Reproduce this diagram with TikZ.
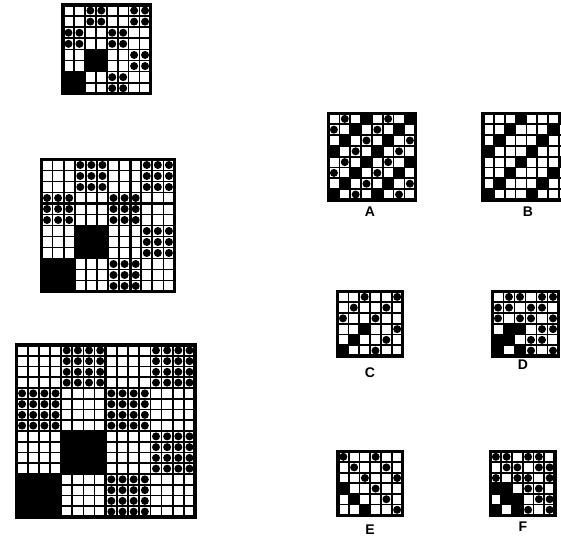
\documentclass[tikz,border=0pt]{standalone}
\usepackage{fontspec}
\setsansfont{Liberation Sans}
\tikzset{
  gridline/.style={line width=1.7pt},
  gridborder/.style={line width=3.2pt},
  midline/.style={line width=2.8pt},
  lbl/.style={font=\sffamily\bfseries\fontsize{14}{14}\selectfont, inner sep=0pt},
}
% #1 x0, #2 y0, #3 ncols, #4 nrows, #5 cell width, #6 cell height, #7 cell type (0 white, 1 dot, 2 black)
\newcommand\mygrid[7]{%
  \pgfmathtruncatemacro\gnc{#3-1}%
  \pgfmathtruncatemacro\gnr{#4-1}%
  \foreach \gr in {0,...,\gnr}{%
    \foreach \gc in {0,...,\gnc}{%
      \pgfmathtruncatemacro\gt{#7}%
      \ifnum\gt=2 \fill ({#1+\gc*#5},{#2+\gr*#6}) rectangle ++(#5,#6);\fi
      \ifnum\gt=1 \fill ({#1+(\gc+0.5)*#5},{#2+(\gr+0.5)*#6}) circle[radius=4];\fi
    }%
  }%
  \foreach \gi in {1,...,\gnc}{\draw[gridline] ({#1+\gi*#5},#2) -- ++(0,{#4*#6});}%
  \foreach \gi in {1,...,\gnr}{\draw[gridline] (#1,{#2+\gi*#6}) -- ++({#3*#5},0);}%
  \draw[gridborder] (#1,#2) rectangle ++({#3*#5},{#4*#6});%
}
\begin{document}
\begin{tikzpicture}[x=1pt,y=-1pt]
\fill[white] (0,0) rectangle (561,537);
\path[use as bounding box] (0,0) rectangle (561,537);
\begin{scope}
\clip (0,0) rectangle (561,537);
% scale series
\mygrid{63}{5}{8}{8}{10.94}{11.1}{mod(floor(\gr/2)+floor(\gc/2),2)==1 ? ((floor(\gr/2)>=2 && floor(\gc/2)<=1) ? 2 : 1) : 0}
\mygrid{41.5}{159.5}{12}{12}{11.08}{11}{mod(floor(\gr/3)+floor(\gc/3),2)==1 ? ((floor(\gr/3)>=2 && floor(\gc/3)<=1) ? 2 : 1) : 0}
\draw[midline] ({41.5+8*11.08},159.5) -- ++(0,132);
\draw[midline] (41.5,{159.5+4*11}) -- ++(133,0);
\mygrid{16.5}{345}{16}{16}{11.16}{10.75}{mod(floor(\gr/4)+floor(\gc/4),2)==1 ? ((floor(\gr/4)>=2 && floor(\gc/4)<=1) ? 2 : 1) : 0}
\draw[midline] ({16.5+8*11.16},345) -- ++(0,172);
\draw[midline] (16.5,{345+8*10.75}) -- ++(178.5,0);
% options
\mygrid{328.5}{113.5}{8}{8}{10.85}{10.8}{mod(\gr+\gc,4)==1 ? 1 : (mod(\gr+\gc,4)==3 ? 2 : 0)}
\mygrid{483}{113.5}{8}{8}{10.85}{10.8}{mod(\gr+\gc,4)==3 ? 2 : 0}
\mygrid{337.5}{291.5}{6}{6}{10.85}{10.75}{mod(\gr+\gc,3)==2 ? ((\gr>=3 && \gc<=2) ? 2 : 1) : 0}
\mygrid{492.5}{291.5}{6}{6}{11}{10.75}{mod(\gr+\gc,3)>=1 ? ((\gr>=3 && \gc<=2) ? 2 : 1) : 0}
\mygrid{338}{451.5}{6}{6}{10.75}{10.6}{mod(\gc-\gr+6,3)==0 ? ((\gr>=3 && \gc<=2) ? 2 : 1) : 0}
\mygrid{490.5}{451.5}{6}{6}{10.75}{10.6}{mod(\gc-\gr+6,3)<=1 ? ((\gr>=3 && \gc<=2) ? 2 : 1) : 0}
\end{scope}
\node[lbl] (labA) at (370,212) {A};
\node[lbl] (labB) at (528,212) {B};
\node[lbl] (labC) at (370,373) {C};
\node[lbl] (labD) at (523,365) {D};
\node[lbl] (labE) at (370,530) {E};
\node[lbl] (labF) at (523,527) {F};
\end{tikzpicture}
\end{document}
